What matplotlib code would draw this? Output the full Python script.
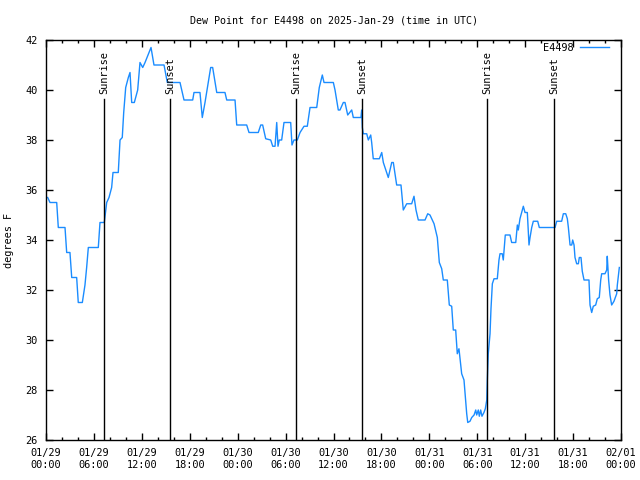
import numpy as np
import matplotlib
matplotlib.use('Agg')
import matplotlib.pyplot as plt

#---------------------- DATA (hours since 2025-01-29 00:00 UTC, dew point in F)
hours = [0.21, 0.5, 1.34, 1.54, 2.38, 2.59, 3.0, 3.22, 3.84, 4.04, 4.55, 4.88, 5.09, 5.30,
         6.55, 6.76, 7.30, 7.60, 7.89, 8.22, 8.39, 9.05, 9.27, 9.55, 9.73, 9.98, 10.31, 10.52,
         10.73, 11.06, 11.48, 11.77, 12.11, 12.40, 13.15, 13.52, 14.78, 15.19, 16.78, 17.28,
         18.37, 18.53, 19.28, 19.57, 19.91, 20.32, 20.62, 20.87, 21.38, 22.41, 22.63, 23.67,
         23.88, 25.13, 25.42, 26.58, 26.89, 27.13, 27.51, 28.14, 28.39, 28.68, 28.89, 29.05,
         29.21, 29.51, 29.80, 30.64, 30.80, 31.05, 31.47, 31.81, 32.31, 32.72, 33.06, 33.90,
         34.22, 34.60, 34.81, 35.98, 36.19, 36.60, 36.81, 37.23, 37.44, 37.78, 38.28, 38.48,
         39.44, 39.53, 39.61, 39.73, 40.16, 40.36, 40.66, 40.78, 40.98, 41.74, 42.04, 42.24,
         42.86, 43.29, 43.49, 43.91, 44.45, 44.74, 45.17, 45.79, 46.08, 46.33, 46.62, 47.46,
         47.80, 48.08, 48.59, 49.00, 49.25, 49.55, 49.75, 50.25, 50.50, 50.80, 51.00, 51.30,
         51.50, 51.71, 51.93, 52.05, 52.34, 52.47, 52.68, 52.81, 53.09, 53.31, 53.60, 53.81,
         53.93, 54.13, 54.26, 54.43, 54.59, 54.84, 55.01, 55.19, 55.26, 55.38, 55.60, 55.72,
         55.89, 56.10, 56.51, 56.72, 56.85, 57.13, 57.26, 57.51, 58.10, 58.31, 58.82, 59.02,
         59.14, 59.35, 59.77, 59.98, 60.27, 60.48, 60.61, 60.82, 61.02, 61.57, 61.77, 63.74,
         63.95, 64.57, 64.78, 65.08, 65.28, 65.41, 65.62, 65.83, 65.95, 66.12, 66.24, 66.45,
         66.66, 66.78, 66.99, 67.15, 67.37, 67.99, 68.12, 68.33, 68.53, 68.83, 69.03, 69.28,
         69.46, 69.58, 69.99, 70.21, 70.28, 70.45, 70.62, 70.83, 71.12, 71.46, 71.54, 71.79]
dewpt = [35.7, 35.5, 35.5, 34.5, 34.5, 33.5, 33.5, 32.5, 32.5, 31.5, 31.5, 32.2, 32.9, 33.7,
         33.7, 34.7, 34.7, 35.5, 35.7, 36.1, 36.7, 36.7, 38.0, 38.1, 39.1, 40.1, 40.5, 40.7,
         39.5, 39.5, 40.0, 41.1, 40.9, 41.1, 41.7, 41.0, 41.0, 40.3, 40.3, 39.6,
         39.6, 39.9, 39.9, 38.9, 39.5, 40.3, 40.9, 40.9, 39.9, 39.9, 39.6, 39.6,
         38.6, 38.6, 38.3, 38.3, 38.6, 38.6, 38.05, 38.0, 37.75, 37.75, 38.7, 37.75,
         38.0, 38.0, 38.7, 38.7, 37.8, 38.0, 38.0, 38.3, 38.55, 38.55, 39.3, 39.3,
         40.1, 40.6, 40.3, 40.3, 40.0, 39.2, 39.2, 39.5, 39.5, 39.0, 39.2, 38.9,
         38.9, 39.2, 38.5, 38.25, 38.25, 38.0, 38.2, 37.9, 37.25, 37.25, 37.5, 37.1,
         36.5, 37.1, 37.1, 36.2, 36.2, 35.2, 35.45, 35.45, 35.75, 35.2, 34.8, 34.8,
         35.05, 35.0, 34.65, 34.1, 33.1, 32.85, 32.4, 32.4, 31.4, 31.35, 30.4, 30.4,
         29.45, 29.65, 29.0, 28.65, 28.4, 27.9, 27.05, 26.7, 26.75, 26.9, 27.0, 27.2,
         27.0, 27.2, 26.95, 27.2, 26.95, 27.1, 27.25, 27.6, 28.4, 29.45, 30.25, 31.25,
         32.25, 32.45, 32.45, 33.2, 33.45, 33.45, 33.2, 34.2, 34.2, 33.9, 33.9, 34.6,
         34.4, 34.85, 35.35, 35.1, 35.1, 33.8, 34.1, 34.5, 34.75, 34.75, 34.5, 34.5,
         34.75, 34.75, 35.05, 35.05, 34.85, 34.5, 33.8, 33.8, 34.0, 33.8, 33.3, 33.05,
         33.05, 33.3, 33.3, 32.75, 32.4, 32.4, 31.4, 31.1, 31.35, 31.4, 31.65, 31.7,
         32.4, 32.65, 32.65, 32.8, 33.35, 32.4, 31.8, 31.4, 31.55, 31.85, 32.2, 32.9]

sun_hours  = [7.30, 15.57, 31.35, 39.61, 55.26, 63.65]
sun_labels = ['Sunrise', 'Sunset', 'Sunrise', 'Sunset', 'Sunrise', 'Sunset']

xtick_hours  = np.arange(0, 73, 6)
xtick_labels = ['01/29\n00:00', '01/29\n06:00', '01/29\n12:00', '01/29\n18:00',
                '01/30\n00:00', '01/30\n06:00', '01/30\n12:00', '01/30\n18:00',
                '01/31\n00:00', '01/31\n06:00', '01/31\n12:00', '01/31\n18:00',
                '02/01\n00:00']
ytick_vals = np.arange(26, 43, 2)

##------------------------PLOTTING
plt.rcParams['font.family'] = 'DejaVu Sans Mono'
fig = plt.figure(figsize=(6.4, 4.8), dpi=100)
ax = fig.add_axes([46/640., 40/480., 575/640., 400/480.])

ax.plot(hours, dewpt, color='#1a8cff', lw=1.0, label='E4498')

for h, lab in zip(sun_hours, sun_labels):
    ax.plot([h, h], [26, 39.64], color='k', lw=1.0)
    ax.text(h, 39.82, lab, rotation=90, ha='center', va='bottom', fontsize=7.4)

ax.set_xlim(0, 72)
ax.set_ylim(26, 42)
ax.set_xticks(xtick_hours)
ax.set_xticklabels(xtick_labels, fontsize=7.4, linespacing=1.25)
ax.set_xticks(np.arange(0, 73, 2), minor=True)
ax.set_yticks(ytick_vals)
ax.set_yticklabels([str(v) for v in ytick_vals], fontsize=7.4)

ax.tick_params(which='major', direction='in', length=5, width=1, top=True, right=True, pad=6)
ax.tick_params(which='minor', direction='in', length=2.5, width=1, top=True, right=False)
for s in ax.spines.values():
    s.set_linewidth(1.0)

ax.set_title('Dew Point for E4498 on 2025-Jan-29 (time in UTC)', fontsize=7.2, pad=12)
ax.set_ylabel('degrees F', fontsize=7.4, labelpad=8)

leg = ax.legend(loc='upper right', bbox_to_anchor=(0.988, 1.005), frameon=False,
                markerfirst=False, fontsize=7.4, handlelength=2.9,
                borderaxespad=0.05, handletextpad=0.6)

fig.savefig('out.png', dpi=100)
